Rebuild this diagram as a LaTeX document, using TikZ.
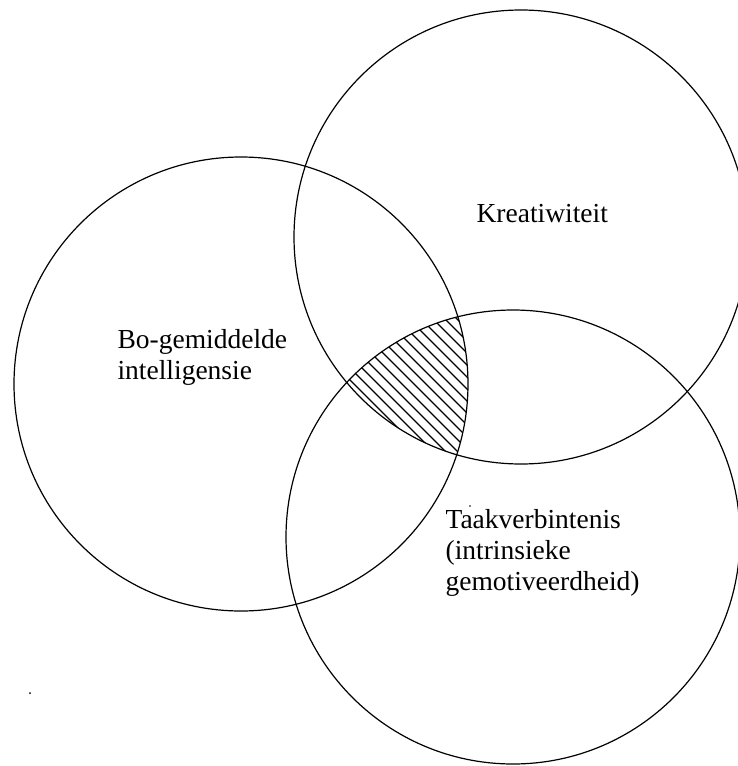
\documentclass[tikz,border=0pt]{standalone}
\usepackage{fontspec}
\setmainfont{Liberation Serif}
\begin{document}
\begin{tikzpicture}[x=1pt,y=-1pt,line width=1.2pt,
  ring/.style={draw=black},
  lbl/.style={anchor=base west,inner sep=0pt,align=left,font=\fontsize{27.5}{31}\selectfont},
  hatch/.style={line width=1.1pt}]
\fill[white] (0,0) rectangle (738,766);
\useasboundingbox (0,0) rectangle (738,766);
\coordinate (A) at (241,384);
\coordinate (B) at (521,237);
\coordinate (C) at (513,537);
\draw[ring] (A) circle[radius=227pt];
\draw[ring] (B) circle[radius=227pt];
\draw[ring] (C) circle[radius=227pt];
\begin{scope}
  \clip (A) circle[radius=227pt];
  \clip (B) circle[radius=227pt];
  \clip (C) circle[radius=227pt];
  \foreach \c in {-30,-18,...,170} \draw[hatch] (\c+250,250) -- (\c+500,500);
\end{scope}
\node[lbl] (kre) at (476,222) {Kreatiwiteit};
\node[lbl] (int) at (117,379) {Bo-gemiddelde\\intelligensie};
\node[lbl] (taak) at (445,590) {Taakverbintenis\\(intrinsieke\\gemotiveerdheid)};
\fill (30,693) circle[radius=1pt];
\fill (470,506) circle[radius=0.8pt];
\end{tikzpicture}
\end{document}
